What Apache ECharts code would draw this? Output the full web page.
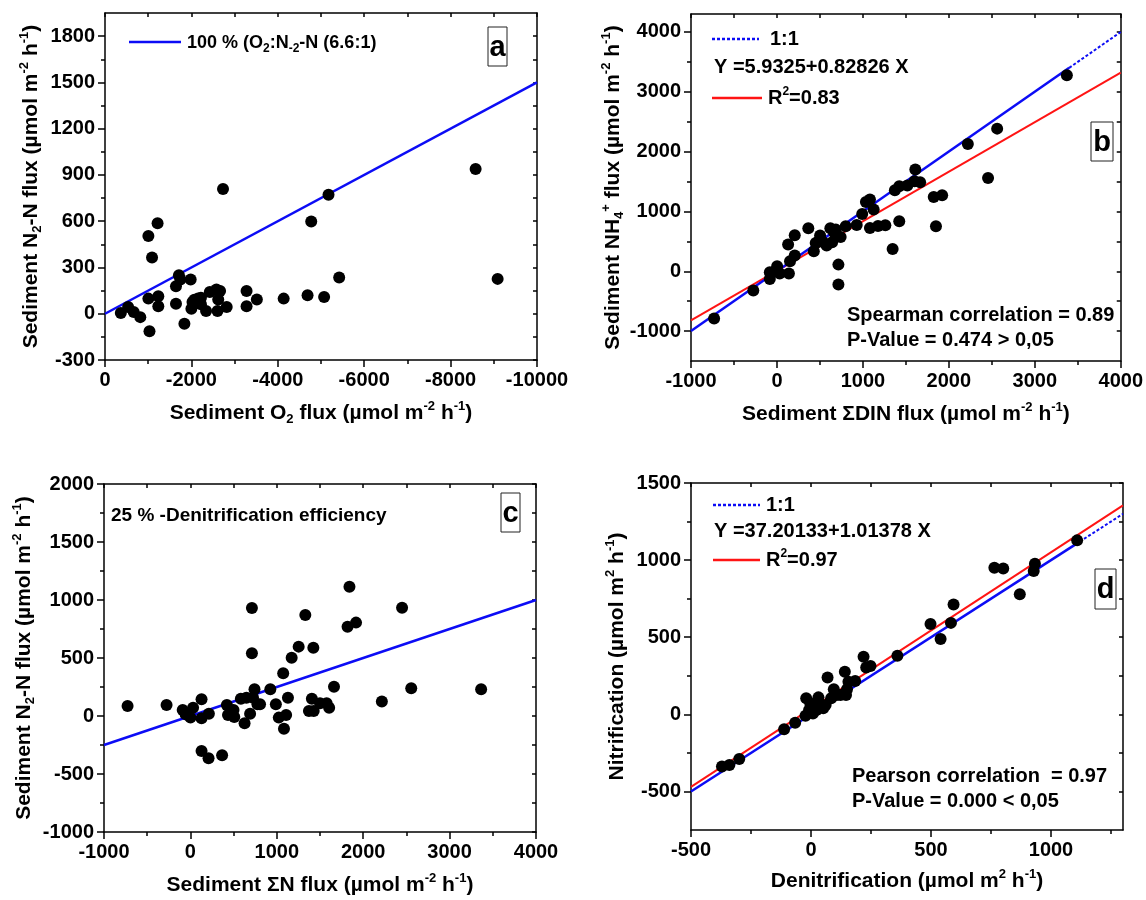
<!DOCTYPE html>
<html>
<head>
<meta charset="utf-8">
<title>Sediment fluxes</title>
<script src="https://cdn.jsdelivr.net/npm/echarts@6/dist/echarts.min.js"></script>
<style>
  html, body { margin: 0; padding: 0; background: #fff; }
  #chart { width: 1146px; height: 900px; }
</style>
</head>
<body>
<div id="chart"></div>
<script>
  // panel a: O2 flux vs N2-N flux
  const aPoints = [
    [-366, 4], [-536, 43], [-664, 11], [-817, -22], [-1030, -113], [-1004, 98],
    [-1004, 504], [-1089, 365], [-1217, 587], [-1234, 113], [-1234, 48], [-1643, 65],
    [-1643, 178], [-1711, 250], [-1745, 222], [-1838, -65], [-1983, 222], [-2000, 33],
    [-2026, 76], [-2068, 91], [-2153, 98], [-2221, 104], [-2221, 61], [-2340, 17],
    [-2426, 141], [-2579, 157], [-2664, 148], [-2621, 93], [-2604, 17], [-2732, 809],
    [-2817, 43], [-3277, 148], [-3277, 48], [-3515, 93], [-4136, 98], [-4689, 120],
    [-4774, 598], [-5072, 109], [-5174, 772], [-5421, 235], [-8579, 939], [-9089, 226]
  ];
  const aRatioLine = [[0, 0], [-10000, 1500]];

  // panel b: DIN flux vs NH4+ flux
  const bPoints = [
    [-731, -791], [-275, -323], [-83, -128], [-83, -17], [2, 84], [32, -39],
    [139, -39], [130, 446], [152, 167], [207, 262], [207, 602], [365, 719],
    [429, 334], [451, 474], [502, 596], [485, 501], [536, 490], [578, 429],
    [621, 719], [642, 485], [664, 652], [685, 696], [741, 574], [715, 111],
    [715, -223], [800, 752], [928, 774], [992, 958], [1035, 1159], [1082, 1198],
    [1125, 1031], [1082, 724], [1176, 758], [1261, 769], [1346, 373], [1372, 1354],
    [1423, 1421], [1423, 836], [1517, 1432], [1610, 1699], [1601, 1504], [1666, 1487],
    [1824, 1242], [1922, 1270], [1850, 752], [2221, 2128], [2456, 1560], [2562, 2384],
    [3373, 3276]
  ];
  const bOneToOne = [[-1000, -1000], [3400, 3400]];
  const bOneToOneDotted = [[3400, 3400], [4000, 4000]];
  const bFit = [[-1000, -822], [4000, 3319]];

  // panel c: total N flux vs N2-N flux
  const cPoints = [
    [-727, 86], [-276, 95], [-89, 52], [-55, 14], [1, -14], [31, 72],
    [129, 144], [129, -20], [214, 20], [129, -302], [210, -365], [367, -339],
    [422, 95], [435, 9], [499, 52], [508, -9], [584, 149], [627, -63],
    [648, 158], [691, 20], [712, 540], [712, 931], [725, 158], [742, 230],
    [776, 101], [806, 101], [925, 230], [989, 101], [1023, -14], [1074, 368],
    [1083, -109], [1108, 9], [1129, 158], [1172, 503], [1253, 598], [1330, 871],
    [1372, 43], [1406, 149], [1423, 589], [1427, 43], [1500, 109], [1577, 109],
    [1606, 72], [1662, 253], [1819, 770], [1841, 1115], [1917, 805], [2216, 124],
    [2450, 934], [2556, 239], [3365, 230]
  ];
  const cEfficiencyLine = [[-1000, -250], [4000, 1000]];

  // panel d: denitrification vs nitrification
  const dPoints = [
    [-371, -339], [-340, -328], [-299, -289], [-112, -97], [-66, -54], [-23, -9],
    [-20, 104], [-8, 28], [-3, 71], [8, 6], [15, 60], [23, 28],
    [31, 110], [38, 50], [51, 39], [61, 60], [69, 239], [84, 104],
    [95, 162], [107, 125], [123, 125], [141, 276], [146, 125], [150, 162],
    [156, 211], [184, 216], [219, 373], [230, 304], [248, 313], [360, 380],
    [498, 585], [540, 488], [583, 593], [594, 712], [764, 951], [801, 945],
    [870, 779], [928, 930], [933, 977], [1109, 1128]
  ];
  const dOneToOne = [[-500, -500], [1120, 1120]];
  const dOneToOneDotted = [[1120, 1120], [1300, 1300]];
  const dFit = [[-500, -470], [1300, 1355]];

  // tick labels (major) and minor ticks
  const aXTicks = [0, -2000, -4000, -6000, -8000, -10000];
  const aXMinor = [-1000, -3000, -5000, -7000, -9000];
  const aYTicks = [-300, 0, 300, 600, 900, 1200, 1500, 1800];
  const aYMinor = [-150, 150, 450, 750, 1050, 1350, 1650];
  const bXTicks = [-1000, 0, 1000, 2000, 3000, 4000];
  const bXMinor = [-500, 500, 1500, 2500, 3500];
  const bYTicks = [-1000, 0, 1000, 2000, 3000, 4000];
  const bYMinor = [-500, 500, 1500, 2500, 3500];
  const cXTicks = [-1000, 0, 1000, 2000, 3000, 4000];
  const cXMinor = [-500, 500, 1500, 2500, 3500];
  const cYTicks = [-1000, -500, 0, 500, 1000, 1500, 2000];
  const cYMinor = [-750, -250, 250, 750, 1250, 1750];
  const dXTicks = [-500, 0, 500, 1000];
  const dXMinor = [-250, 250, 750, 1250];
  const dYTicks = [-500, 0, 500, 1000, 1500];
  const dYMinor = [-250, 250, 750, 1250];

  const FONT = '"Liberation Sans", Arial, sans-serif';
  const BLUE = '#0c0cf5';
  const RED = '#ff1414';

  const chart = echarts.init(document.getElementById('chart'));

  const richParts = (size) => ({
    sup: { fontSize: size * 0.62, fontWeight: 'bold', fontFamily: FONT, color: '#000', verticalAlign: 'top', lineHeight: 12 },
    sub: { fontSize: size * 0.62, fontWeight: 'bold', fontFamily: FONT, color: '#000', verticalAlign: 'bottom', lineHeight: 12 },
  });

  const nameStyle = {
    fontSize: 21, fontWeight: 'bold', fontFamily: FONT, color: '#000', lineHeight: 26,
    rich: richParts(21),
  };

  const lineStyle = { color: '#000', width: 1.5 };

  // three axes per side pair: labelled main axis, minor-tick axis, mirrored frame axis
  function axisSet(dim, grid, cfg) {
    const pos = dim === 'x' ? ['bottom', 'top'] : ['left', 'right'];
    const base = {
      type: 'value', gridIndex: grid, min: cfg.min, max: cfg.max,
      inverse: !!cfg.inverse, splitLine: { show: false },
    };
    return [
      {
        ...base, position: pos[0],
        axisLine: { show: true, onZero: false, lineStyle },
        axisTick: { show: true, customValues: cfg.major, length: 7, lineStyle },
        axisLabel: {
          show: true, customValues: cfg.major, formatter: (v) => String(v),
          margin: 10, color: '#000', fontFamily: FONT, fontWeight: 'bold', fontSize: 20,
        },
        name: cfg.name, nameLocation: 'middle', nameGap: cfg.nameGap,
        nameTextStyle: nameStyle,
      },
      {
        ...base, position: pos[0],
        axisLine: { show: false, onZero: false },
        axisTick: { show: true, customValues: cfg.minor, length: 4, lineStyle },
        axisLabel: { show: false },
      },
      {
        ...base, position: pos[1],
        axisLine: { show: true, onZero: false, lineStyle },
        axisTick: { show: true, inside: true, customValues: cfg.major.concat(cfg.minor), length: 4, lineStyle },
        axisLabel: { show: false },
      },
    ];
  }

  const xAxis = [].concat(
    axisSet('x', 0, { min: -10000, max: 0, inverse: true, major: aXTicks, minor: aXMinor, nameGap: 40,
      name: 'Sediment O{sub|2} flux (µmol m{sup|-2} h{sup|-1})' }),
    axisSet('x', 1, { min: -1000, max: 4000, major: bXTicks, minor: bXMinor, nameGap: 40,
      name: 'Sediment ΣDIN flux (µmol m{sup|-2} h{sup|-1})' }),
    axisSet('x', 2, { min: -1000, max: 4000, major: cXTicks, minor: cXMinor, nameGap: 40,
      name: 'Sediment ΣN flux (µmol m{sup|-2} h{sup|-1})' }),
    axisSet('x', 3, { min: -500, max: 1300, major: dXTicks, minor: dXMinor, nameGap: 38,
      name: 'Denitrification (µmol m{sup|2} h{sup|-1})' })
  );

  const yAxis = [].concat(
    axisSet('y', 0, { min: -300, max: 1950, major: aYTicks, minor: aYMinor, nameGap: 61,
      name: 'Sediment N{sub|2}-N flux (µmol m{sup|-2} h{sup|-1})' }),
    axisSet('y', 1, { min: -1500, max: 4300, major: bYTicks, minor: bYMinor, nameGap: 63,
      name: 'Sediment NH{sub|4}{sup|+} flux (µmol m{sup|-2} h{sup|-1})' }),
    axisSet('y', 2, { min: -1000, max: 2000, major: cYTicks, minor: cYMinor, nameGap: 67,
      name: 'Sediment N{sub|2}-N flux (µmol m{sup|-2} h{sup|-1})' }),
    axisSet('y', 3, { min: -750, max: 1500, major: dYTicks, minor: dYMinor, nameGap: 61,
      name: 'Nitrification (µmol m{sup|2} h{sup|-1})' })
  );

  const dots = (idx, data) => ({
    type: 'scatter', xAxisIndex: idx * 3, yAxisIndex: idx * 3, data,
    symbol: 'circle', symbolSize: 12, itemStyle: { color: '#000', opacity: 1 }, z: 5,
  });
  const line = (idx, data, color, width, type) => ({
    type: 'line', xAxisIndex: idx * 3, yAxisIndex: idx * 3, data,
    symbol: 'none', silent: true, z: 3,
    lineStyle: { color, width, type: type || 'solid' },
  });

  // legend / annotation helpers
  const txt = (x, y, text, size) => ({
    type: 'text', x, y, z: 100,
    style: {
      text, fill: '#000', fontSize: size || 20, fontWeight: 'bold', fontFamily: FONT,
      verticalAlign: 'middle', align: 'left', lineHeight: 24,
      rich: {
        sup: { fontSize: 12, fontWeight: 'bold', fontFamily: FONT, fill: '#000', verticalAlign: 'top', lineHeight: 10 },
        sub: { fontSize: 12, fontWeight: 'bold', fontFamily: FONT, fill: '#000', verticalAlign: 'bottom', lineHeight: 10 },
      },
    },
  });
  const seg = (x1, y, x2, color, dash) => ({
    type: 'line', z: 100,
    shape: { x1, y1: y, x2, y2: y },
    style: { stroke: color, lineWidth: 2.5, lineDash: dash || null },
  });
  const tag = (x, y, w, h, letter) => ({
    type: 'group', z: 100,
    children: [
      { type: 'rect', shape: { x, y, width: w, height: h }, style: { fill: '#fff', stroke: '#222', lineWidth: 1 } },
      { type: 'text', x: x + w / 2, y: y + h / 2 + 1,
        style: { text: letter, fill: '#000', fontSize: 29, fontWeight: 'bold', fontFamily: FONT, align: 'center', verticalAlign: 'middle' } },
    ],
  });

  chart.setOption({
    animation: false,
    backgroundColor: '#fff',
    grid: [
      { left: 105, top: 13, width: 432, height: 347 },
      { left: 691, top: 14, width: 431, height: 347 },
      { left: 104, top: 484, width: 432, height: 348 },
      { left: 691, top: 483, width: 432, height: 347 },
    ],
    xAxis,
    yAxis,
    series: [
      line(0, aRatioLine, BLUE, 2.5),
      dots(0, aPoints),
      line(1, bFit, RED, 2),
      line(1, bOneToOne, BLUE, 2.5),
      line(1, bOneToOneDotted, BLUE, 2, [3, 2]),
      dots(1, bPoints),
      line(2, cEfficiencyLine, BLUE, 2.5),
      dots(2, cPoints),
      line(3, dFit, RED, 2),
      line(3, dOneToOne, BLUE, 2.5),
      line(3, dOneToOneDotted, BLUE, 2, [3, 2]),
      dots(3, dPoints),
    ],
    graphic: [
      // a
      seg(129, 42, 181, BLUE),
      txt(187, 43, '100 % (O{sub|2}:N{sub|-2}-N (6.6:1)', 18),
      tag(488, 27, 19, 39, 'a'),
      // b
      seg(712, 39, 759, BLUE, [3, 2]),
      txt(770, 39, '1:1'),
      txt(714, 67, 'Y =5.9325+0.82826 X'),
      seg(712, 98, 762, RED),
      txt(768, 98, 'R{sup|2}=0.83'),
      txt(847, 315, 'Spearman correlation = 0.89'),
      txt(847, 340, 'P-Value = 0.474 > 0,05'),
      tag(1091, 122, 22, 39, 'b'),
      // c
      txt(111, 516, '25 % -Denitrification efficiency', 19),
      tag(501, 493, 19, 39, 'c'),
      // d
      seg(713, 505, 760, BLUE, [3, 2]),
      txt(766, 505, '1:1'),
      txt(714, 531, 'Y =37.20133+1.01378 X'),
      seg(713, 560, 760, RED),
      txt(766, 560, 'R{sup|2}=0.97'),
      txt(852, 776, 'Pearson correlation  = 0.97'),
      txt(852, 801, 'P-Value = 0.000 < 0,05'),
      tag(1095, 569, 21, 40, 'd'),
    ],
  });
</script>
</body>
</html>
